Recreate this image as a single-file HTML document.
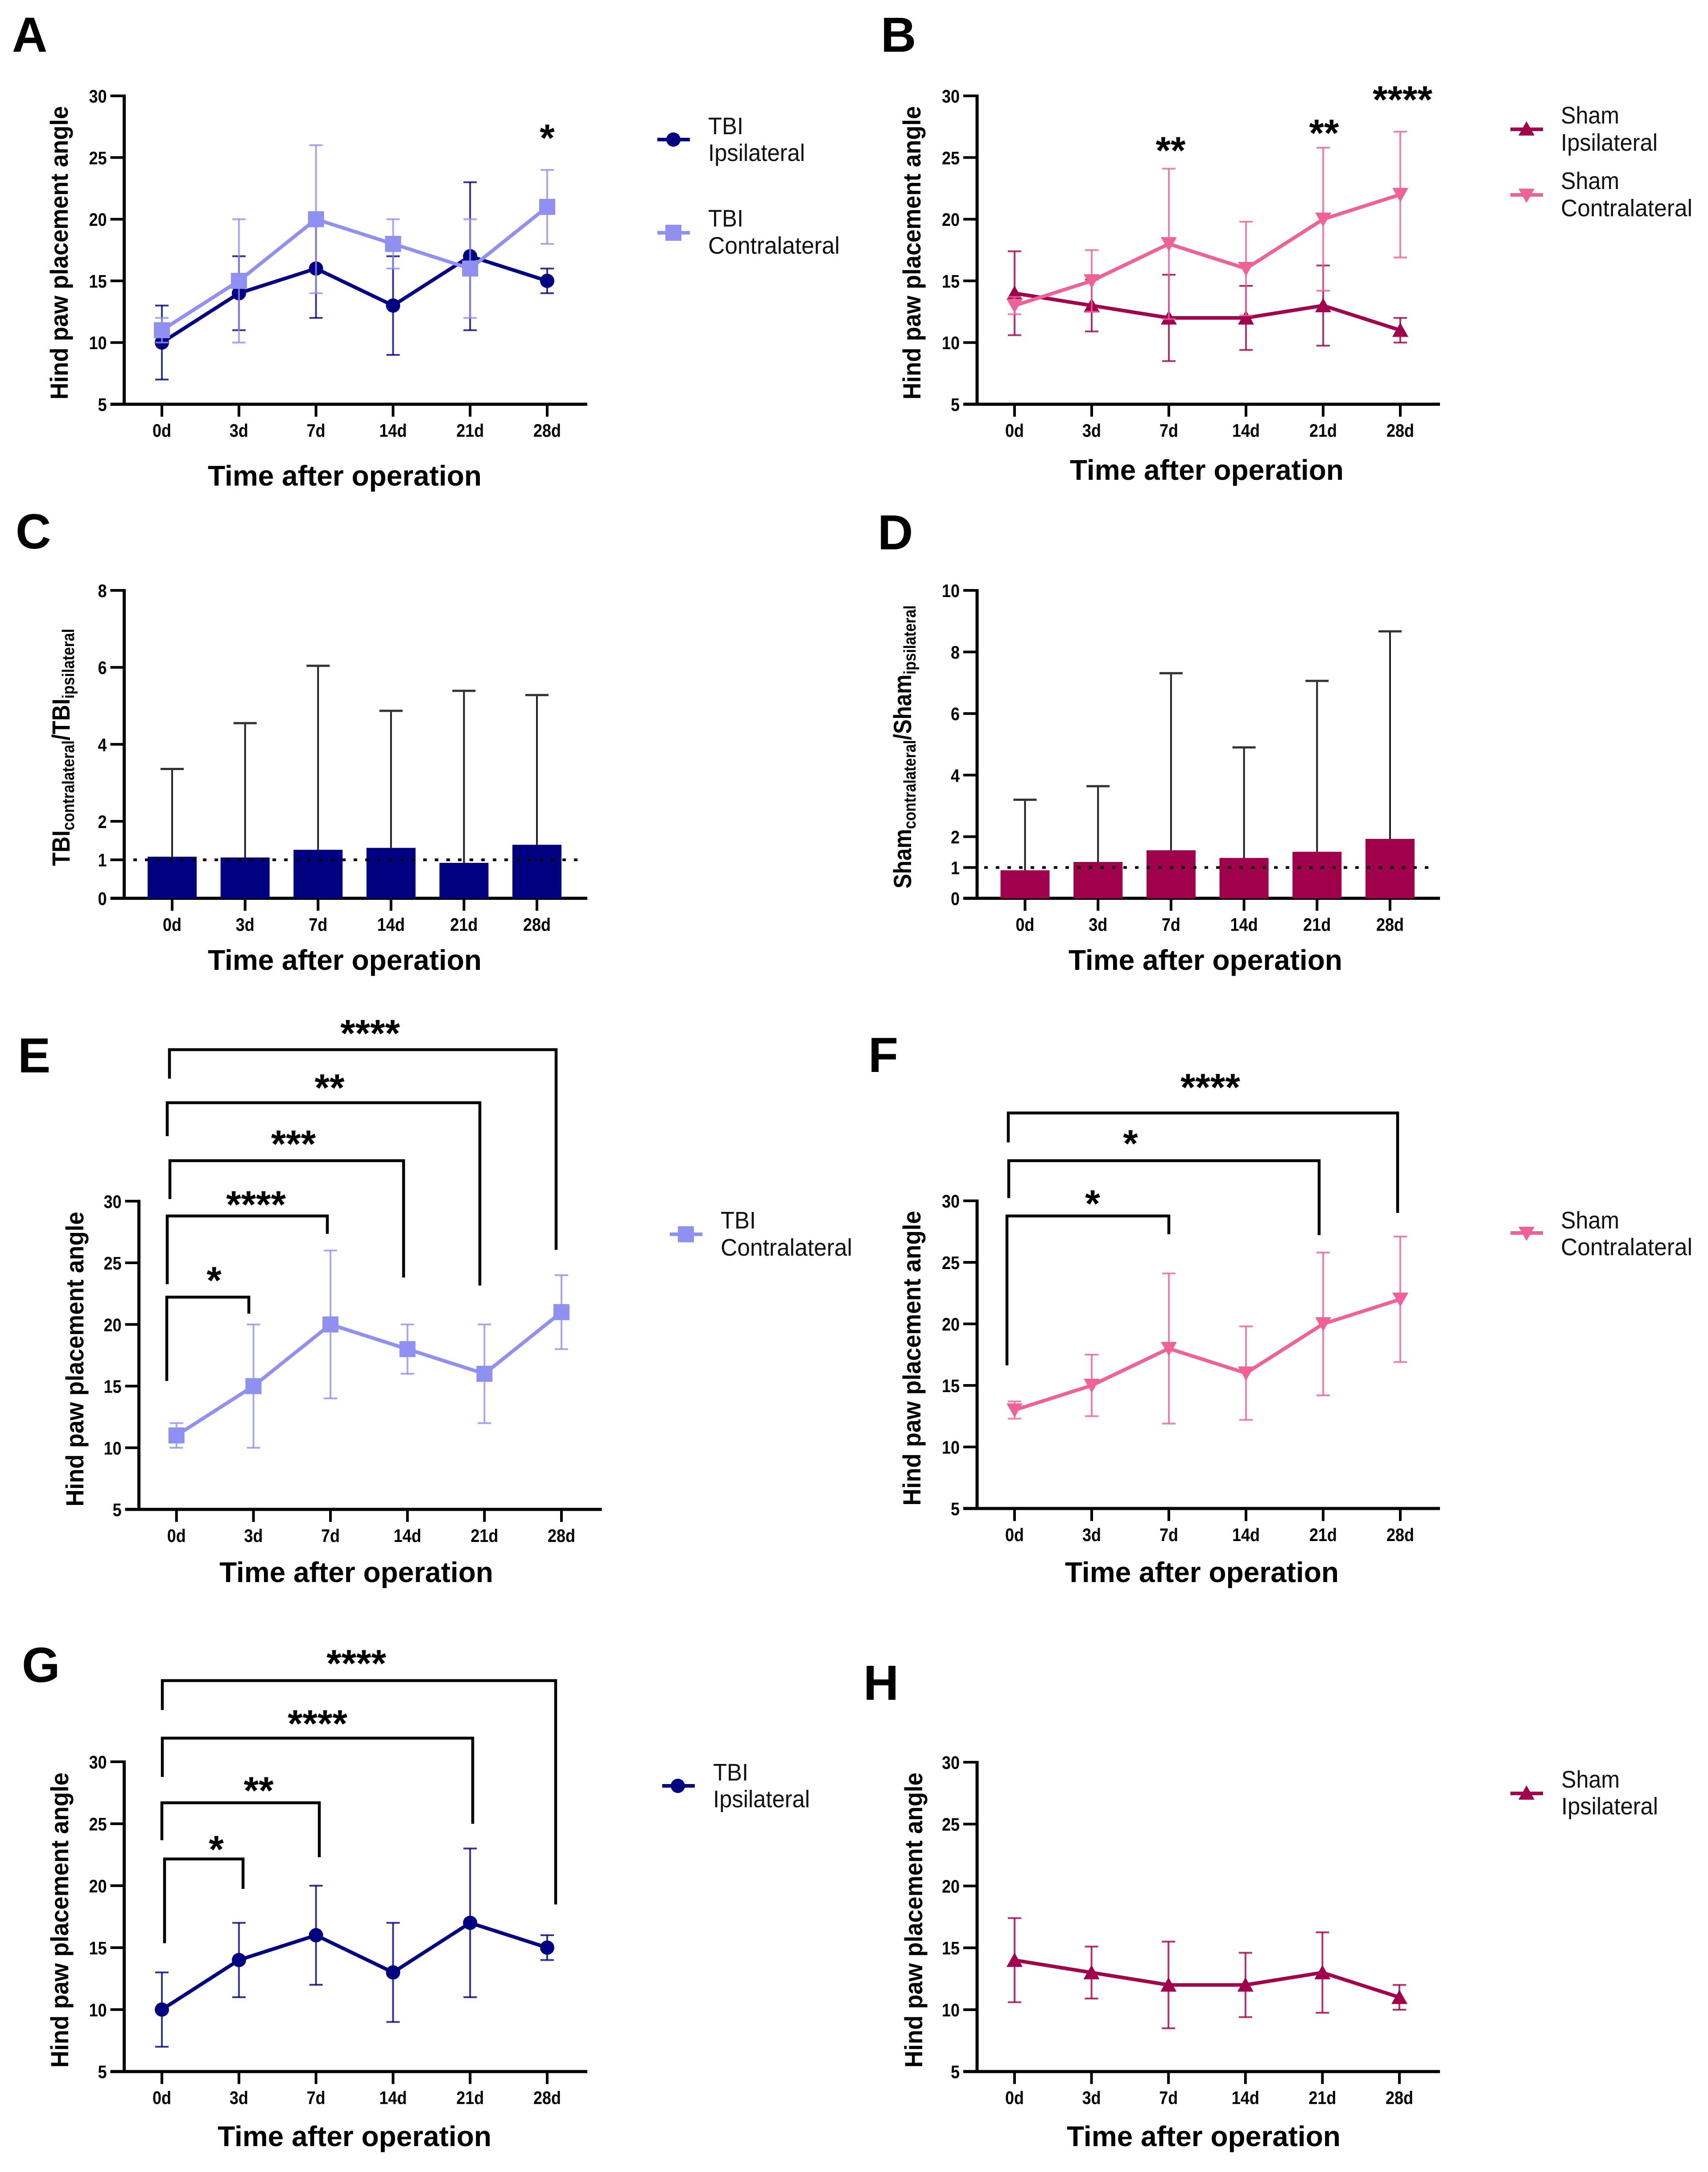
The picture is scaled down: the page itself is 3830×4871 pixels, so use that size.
<!DOCTYPE html>
<html lang="en">
<head>
<meta charset="utf-8">
<title>Hind paw placement angle after operation</title>
<style>
html,body{margin:0;padding:0;background:#fff;}
svg{display:block;}
text{font-family:"Liberation Sans",sans-serif;fill:#000;}
.letter{font-size:110px;font-weight:bold;}
.xtitle{font-size:64px;font-weight:bold;text-anchor:middle;}
.ytitle{font-size:56px;font-weight:bold;text-anchor:middle;}
.tick{font-size:41px;font-weight:bold;}
.legend{font-size:54px;fill:#111;}
.star{font-size:86px;font-weight:bold;text-anchor:middle;transform:translateY(-6px);}
.bracket{fill:none;stroke:#000;stroke-width:6.5;}
</style>
</head>
<body>
<svg id="figure" xmlns="http://www.w3.org/2000/svg" width="3830" height="4871" viewBox="0 0 3830 4871">
<rect x="0" y="0" width="3830" height="4871" fill="#fff"/>

<g id="panel-a">
  <text class="letter" x="27" y="116">A</text>
  <text class="ytitle" transform="translate(152,567) rotate(-90)" textLength="658" lengthAdjust="spacingAndGlyphs">Hind paw placement angle</text>
  <text class="xtitle" x="773" y="1089" textLength="614" lengthAdjust="spacingAndGlyphs">Time after operation</text>
  <text class="star" x="1227" y="345">*</text>
  <g>
    <line x1="1474" x2="1547" y1="313" y2="313" stroke="#000080" stroke-width="8"/><circle cx="1510" cy="313" r="16" fill="#000080"/>
    <text class="legend" x="1588" y="301" textLength="79" lengthAdjust="spacingAndGlyphs">TBI</text><text class="legend" x="1588" y="361" textLength="217" lengthAdjust="spacingAndGlyphs">Ipsilateral</text>
  </g>
  <g>
    <line x1="1474" x2="1547" y1="522" y2="522" stroke="#9090f0" stroke-width="8"/><rect x="1492" y="504" width="36" height="36" fill="#9090f0"/>
    <text class="legend" x="1588" y="508" textLength="79" lengthAdjust="spacingAndGlyphs">TBI</text><text class="legend" x="1588" y="569" textLength="295" lengthAdjust="spacingAndGlyphs">Contralateral</text>
  </g>
</g>

<g id="panel-b">
  <text class="letter" x="1975" y="116">B</text>
  <text class="ytitle" transform="translate(2064,567) rotate(-90)" textLength="658" lengthAdjust="spacingAndGlyphs">Hind paw placement angle</text>
  <text class="xtitle" x="2706" y="1076" textLength="614" lengthAdjust="spacingAndGlyphs">Time after operation</text>
  <text class="star" x="2625" y="373">**</text>
  <text class="star" x="2969" y="334">**</text>
  <text class="star" x="3145" y="259">****</text>
  <g>
    <line x1="3387" x2="3460" y1="290" y2="290" stroke="#a0004c" stroke-width="8"/><polygon points="3423,272 3405,304 3441,304" fill="#a0004c"/>
    <text class="legend" x="3500" y="277" textLength="131" lengthAdjust="spacingAndGlyphs">Sham</text><text class="legend" x="3500" y="338" textLength="217" lengthAdjust="spacingAndGlyphs">Ipsilateral</text>
  </g>
  <g>
    <line x1="3387" x2="3460" y1="437" y2="437" stroke="#ee6298" stroke-width="8"/><polygon points="3423,455 3405,423 3441,423" fill="#ee6298"/>
    <text class="legend" x="3500" y="424" textLength="131" lengthAdjust="spacingAndGlyphs">Sham</text><text class="legend" x="3500" y="485" textLength="295" lengthAdjust="spacingAndGlyphs">Contralateral</text>
  </g>
</g>

<g id="panel-c">
  <text class="letter" x="35" y="1230">C</text>
  <text class="ytitle" transform="translate(156,1676) rotate(-90)" textLength="532" lengthAdjust="spacingAndGlyphs">TBI<tspan font-size="38" dy="10">contralateral</tspan><tspan dy="-10">/TBI</tspan><tspan font-size="38" dy="10">ipsilateral</tspan></text>
  <text class="xtitle" x="773" y="2175" textLength="614" lengthAdjust="spacingAndGlyphs">Time after operation</text>
</g>

<g id="panel-d">
  <text class="letter" x="1968" y="1232">D</text>
  <text class="ytitle" transform="translate(2043,1675) rotate(-90)" textLength="635" lengthAdjust="spacingAndGlyphs">Sham<tspan font-size="38" dy="10">contralateral</tspan><tspan dy="-10">/Sham</tspan><tspan font-size="38" dy="10">ipsilateral</tspan></text>
  <text class="xtitle" x="2703" y="2175" textLength="614" lengthAdjust="spacingAndGlyphs">Time after operation</text>
</g>

<g id="panel-e">
  <text class="letter" x="40" y="2405">E</text>
  <text class="ytitle" transform="translate(187,3048) rotate(-90)" textLength="661" lengthAdjust="spacingAndGlyphs">Hind paw placement angle</text>
  <text class="xtitle" x="799" y="3548" textLength="614" lengthAdjust="spacingAndGlyphs">Time after operation</text>
  <path class="bracket" d="M374 3097V2909H558V2946"/>
  <text class="star" x="480" y="2907">*</text>
  <path class="bracket" d="M375 2880V2727H734V2767"/>
  <text class="star" x="574" y="2737">****</text>
  <path class="bracket" d="M381 2689V2603H905V2865"/>
  <text class="star" x="658" y="2601">***</text>
  <path class="bracket" d="M375 2548V2473H1076V2883"/>
  <text class="star" x="739" y="2475">**</text>
  <path class="bracket" d="M380 2419V2354H1247V2803"/>
  <text class="star" x="830" y="2353">****</text>
  <g>
    <line x1="1502" x2="1575" y1="2768" y2="2768" stroke="#9090f0" stroke-width="8"/><rect x="1520" y="2750" width="36" height="36" fill="#9090f0"/>
    <text class="legend" x="1616" y="2755" textLength="79" lengthAdjust="spacingAndGlyphs">TBI</text><text class="legend" x="1616" y="2816" textLength="295" lengthAdjust="spacingAndGlyphs">Contralateral</text>
  </g>
</g>

<g id="panel-f">
  <text class="letter" x="1947" y="2404">F</text>
  <text class="ytitle" transform="translate(2064,3046) rotate(-90)" textLength="661" lengthAdjust="spacingAndGlyphs">Hind paw placement angle</text>
  <text class="xtitle" x="2695" y="3548" textLength="614" lengthAdjust="spacingAndGlyphs">Time after operation</text>
  <path class="bracket" d="M2258 3062V2727H2621V2768"/>
  <text class="star" x="2450" y="2735">*</text>
  <path class="bracket" d="M2262 2687V2603H2958V2770"/>
  <text class="star" x="2535" y="2600">*</text>
  <path class="bracket" d="M2261 2562V2496H3134V2720"/>
  <text class="star" x="2714" y="2474">****</text>
  <g>
    <line x1="3387" x2="3460" y1="2765" y2="2765" stroke="#ee6298" stroke-width="8"/><polygon points="3423,2783 3405,2751 3441,2751" fill="#ee6298"/>
    <text class="legend" x="3500" y="2755" textLength="131" lengthAdjust="spacingAndGlyphs">Sham</text><text class="legend" x="3500" y="2815" textLength="295" lengthAdjust="spacingAndGlyphs">Contralateral</text>
  </g>
</g>

<g id="panel-g">
  <text class="letter" x="49" y="3772">G</text>
  <text class="ytitle" transform="translate(153,4306) rotate(-90)" textLength="662" lengthAdjust="spacingAndGlyphs">Hind paw placement angle</text>
  <text class="xtitle" x="795" y="4813" textLength="614" lengthAdjust="spacingAndGlyphs">Time after operation</text>
  <path class="bracket" d="M369 4358V4169H545V4236"/>
  <text class="star" x="485" y="4183">*</text>
  <path class="bracket" d="M363 4127V4043H716V4165"/>
  <text class="star" x="580" y="4051">**</text>
  <path class="bracket" d="M364 3985V3898H1060V4090"/>
  <text class="star" x="712" y="3901">****</text>
  <path class="bracket" d="M364 3835V3769H1246V4271"/>
  <text class="star" x="799" y="3766">****</text>
  <g>
    <line x1="1485" x2="1558" y1="4005" y2="4005" stroke="#000080" stroke-width="8"/><circle cx="1520" cy="4005" r="16" fill="#000080"/>
    <text class="legend" x="1599" y="3993" textLength="79" lengthAdjust="spacingAndGlyphs">TBI</text><text class="legend" x="1599" y="4053" textLength="217" lengthAdjust="spacingAndGlyphs">Ipsilateral</text>
  </g>
</g>

<g id="panel-h">
  <text class="letter" x="1936" y="3812">H</text>
  <text class="ytitle" transform="translate(2068,4306) rotate(-90)" textLength="662" lengthAdjust="spacingAndGlyphs">Hind paw placement angle</text>
  <text class="xtitle" x="2699" y="4813" textLength="614" lengthAdjust="spacingAndGlyphs">Time after operation</text>
  <g>
    <line x1="3387" x2="3460" y1="4022" y2="4022" stroke="#a0004c" stroke-width="8"/><polygon points="3423,4004 3405,4036 3441,4036" fill="#a0004c"/>
    <text class="legend" x="3501" y="4009" textLength="131" lengthAdjust="spacingAndGlyphs">Sham</text><text class="legend" x="3501" y="4069" textLength="217" lengthAdjust="spacingAndGlyphs">Ipsilateral</text>
  </g>
</g>
</svg>

<script>
const categories = ['0d', '3d', '7d', '14d', '21d', '28d'];
const angleTicks = [5, 10, 15, 20, 25, 30];
const tbiRatioTicks = [0, 1, 2, 4, 6, 8];
const shamRatioTicks = [0, 1, 2, 4, 6, 8, 10];

const tbiIpsiMean = [10, 14, 16, 13, 17, 15];
const tbiIpsiLow = [7, 11, 12, 9, 11, 14];
const tbiIpsiHigh = [13, 17, 20, 17, 23, 16];

const tbiContraMean = [11, 15, 20, 18, 16, 21];
const tbiContraLow = [10, 10, 14, 16, 12, 18];
const tbiContraHigh = [12, 20, 26, 20, 20, 24];

const shamIpsiMean = [14, 13, 12, 12, 13, 11];
const shamIpsiLow = [10.6, 10.9, 8.5, 9.4, 9.75, 10];
const shamIpsiHigh = [17.4, 15.1, 15.5, 14.6, 16.25, 12];

const shamContraMean = [13, 15, 18, 16, 20, 22];
const shamContraLow = [12.3, 12.5, 11.9, 12.2, 14.2, 16.9];
const shamContraHigh = [13.7, 17.5, 24.1, 19.8, 25.8, 27.1];

const tbiRatioMean = [1.08, 1.06, 1.26, 1.31, 0.92, 1.39];
const tbiRatioHigh = [3.36, 4.55, 6.04, 4.87, 5.39, 5.28];

const shamRatioMean = [0.91, 1.18, 1.56, 1.31, 1.51, 1.93];
const shamRatioHigh = [3.2, 3.64, 7.31, 4.9, 7.06, 8.67];

const NS = 'http://www.w3.org/2000/svg';
const NAVY = '#000080';
const PERIWINKLE = '#9090f0';
const CRIMSON = '#a0004c';
const PINK = '#ee6298';

function make(tag, parent, attrs) {
  const el = document.createElementNS(NS, tag);
  for (const k in attrs) el.setAttribute(k, attrs[k]);
  parent.appendChild(el);
  return el;
}

function makeAxes(panelId, frame, ticks) {
  const g = document.getElementById(panelId);
  const vMin = ticks[0];
  const vMax = ticks[ticks.length - 1];
  const sx = function (i) { return frame.x0 + i * (frame.x5 - frame.x0) / (categories.length - 1); };
  const sy = function (v) { return frame.y0 - (v - vMin) * (frame.y0 - frame.top) / (vMax - vMin); };

  const yAxis = make('line', g, { x1: frame.axisX, x2: frame.axisX, y1: frame.top - 3, y2: frame.y0 + 3, stroke: '#000', 'stroke-width': 7 });
  
  
  const xAxis = make('line', g, { x1: frame.axisX - 31, x2: frame.xEnd, y1: frame.y0, y2: frame.y0, stroke: '#000', 'stroke-width': 7 });
  
  

  ticks.forEach(function (t) {
    const mark = make('line', g, { x1: frame.axisX - 31, x2: frame.axisX, y1: sy(t), y2: sy(t), stroke: '#000', 'stroke-width': 6 });
    
    
    const label = make('text', g, { class: 'tick', x: frame.axisX - 39, y: sy(t) + 15, 'text-anchor': 'end', textLength: String(t).length * 20, lengthAdjust: 'spacingAndGlyphs' });
    
    
    label.textContent = String(t);
  });

  categories.forEach(function (c, i) {
    const mark = make('line', g, { x1: sx(i), x2: sx(i), y1: frame.y0, y2: frame.y0 + 28, stroke: '#000', 'stroke-width': 6 });
    
    
    const label = make('text', g, { class: 'tick', x: sx(i), y: frame.y0 + 73, 'text-anchor': 'middle', textLength: (c.length - 1) * 20 + 22, lengthAdjust: 'spacingAndGlyphs' });
    
    
    label.textContent = c;
  });
  return { g: g, sx: sx, sy: sy };
}

function drawMarker(g, kind, x, y, color) {
  if (kind === 'circle') return make('circle', g, { cx: x, cy: y, r: 16, fill: color });
  if (kind === 'square') return make('rect', g, { x: x - 18, y: y - 18, width: 36, height: 36, fill: color });
  const dir = kind === 'up' ? 1 : -1;
  const pts = [[x, y - 17 * dir], [x - 18, y + 15 * dir], [x + 18, y + 15 * dir]];
  return make('polygon', g, { points: pts.map(function (p) { return p.join(','); }).join(' '), fill: color });
}

function drawLineSeries(axes, name, means, lows, highs, color, kind) {
  const g = axes.g;
  categories.forEach(function (c, i) {
    const x = axes.sx(i);
    const stem = make('line', g, { x1: x, x2: x, y1: axes.sy(lows[i]), y2: axes.sy(highs[i]), stroke: color, 'stroke-width': 4, opacity: 0.8 });
    
    
    const capHigh = make('line', g, { x1: x - 15, x2: x + 15, y1: axes.sy(highs[i]), y2: axes.sy(highs[i]), stroke: color, 'stroke-width': 4, opacity: 0.8 });
    
    
    const capLow = make('line', g, { x1: x - 15, x2: x + 15, y1: axes.sy(lows[i]), y2: axes.sy(lows[i]), stroke: color, 'stroke-width': 4, opacity: 0.8 });
    
    
  });
  const pts = means.map(function (v, i) { return axes.sx(i) + ',' + axes.sy(v); }).join(' ');
  const line = make('polyline', g, { points: pts, fill: 'none', stroke: color, 'stroke-width': 8, 'stroke-linejoin': 'miter' });
  
  
  means.forEach(function (v, i) {
    const marker = drawMarker(g, kind, axes.sx(i), axes.sy(v), color);
    
    
  });
}

function drawBars(axes, name, means, highs, color) {
  const g = axes.g;
  means.forEach(function (v, i) {
    const c = categories[i];
    const x = axes.sx(i);
    const stem = make('line', g, { x1: x, x2: x, y1: axes.sy(v), y2: axes.sy(highs[i]), stroke: '#222', 'stroke-width': 4 });
    
    
    const cap = make('line', g, { x1: x - 26, x2: x + 26, y1: axes.sy(highs[i]), y2: axes.sy(highs[i]), stroke: '#333', 'stroke-width': 5 });
    
    
    const bar = make('rect', g, { x: x - 55, y: axes.sy(v), width: 110, height: axes.sy(0) - axes.sy(v), fill: color });
    
    
  });
}

function drawReference(axes, name, x1, x2) {
  const ref = make('line', axes.g, { x1: x1, x2: x2, y1: axes.sy(1), y2: axes.sy(1), stroke: '#000', 'stroke-width': 6, 'stroke-dasharray': '8 18' });
  
  
}

const axesA = makeAxes('panel-a', { axisX: 278.5, xEnd: 1317, top: 215, y0: 906.5, x0: 363, x5: 1227 }, angleTicks);
drawLineSeries(axesA, 'tbi-ipsilateral', tbiIpsiMean, tbiIpsiLow, tbiIpsiHigh, NAVY, 'circle');
drawLineSeries(axesA, 'tbi-contralateral', tbiContraMean, tbiContraLow, tbiContraHigh, PERIWINKLE, 'square');

const axesB = makeAxes('panel-b', { axisX: 2191, xEnd: 3229, top: 215, y0: 906.5, x0: 2275, x5: 3140 }, angleTicks);
drawLineSeries(axesB, 'sham-ipsilateral', shamIpsiMean, shamIpsiLow, shamIpsiHigh, CRIMSON, 'up');
drawLineSeries(axesB, 'sham-contralateral', shamContraMean, shamContraLow, shamContraHigh, PINK, 'down');

const axesC = makeAxes('panel-c', { axisX: 278.5, xEnd: 1317, top: 1324, y0: 2014.5, x0: 386, x5: 1204 }, tbiRatioTicks);
drawBars(axesC, 'tbi-ratio', tbiRatioMean, tbiRatioHigh, NAVY);
drawReference(axesC, 'tbi-ratio-reference-line', 299, 1297);

const axesD = makeAxes('panel-d', { axisX: 2191, xEnd: 3229, top: 1324, y0: 2014.5, x0: 2298.5, x5: 3117 }, shamRatioTicks);
drawBars(axesD, 'sham-ratio', shamRatioMean, shamRatioHigh, CRIMSON);
drawReference(axesD, 'sham-ratio-reference-line', 2207, 3210);

const axesE = makeAxes('panel-e', { axisX: 311.5, xEnd: 1349.5, top: 2693.8, y0: 3385, x0: 395.7, x5: 1259 }, angleTicks);
drawLineSeries(axesE, 'tbi-contralateral-e', tbiContraMean, tbiContraLow, tbiContraHigh, PERIWINKLE, 'square');

const axesF = makeAxes('panel-f', { axisX: 2191, xEnd: 3229, top: 2693, y0: 3383, x0: 2275, x5: 3140 }, angleTicks);
drawLineSeries(axesF, 'sham-contralateral-f', shamContraMean, shamContraLow, shamContraHigh, PINK, 'down');

const axesG = makeAxes('panel-g', { axisX: 278.5, xEnd: 1317, top: 3951, y0: 4645.7, x0: 363, x5: 1227 }, angleTicks);
drawLineSeries(axesG, 'tbi-ipsilateral-g', tbiIpsiMean, tbiIpsiLow, tbiIpsiHigh, NAVY, 'circle');

const axesH = makeAxes('panel-h', { axisX: 2191, xEnd: 3229, top: 3952, y0: 4645.7, x0: 2275, x5: 3138 }, angleTicks);
drawLineSeries(axesH, 'sham-ipsilateral-h', shamIpsiMean, shamIpsiLow, shamIpsiHigh, CRIMSON, 'up');
</script>
</body>
</html>
